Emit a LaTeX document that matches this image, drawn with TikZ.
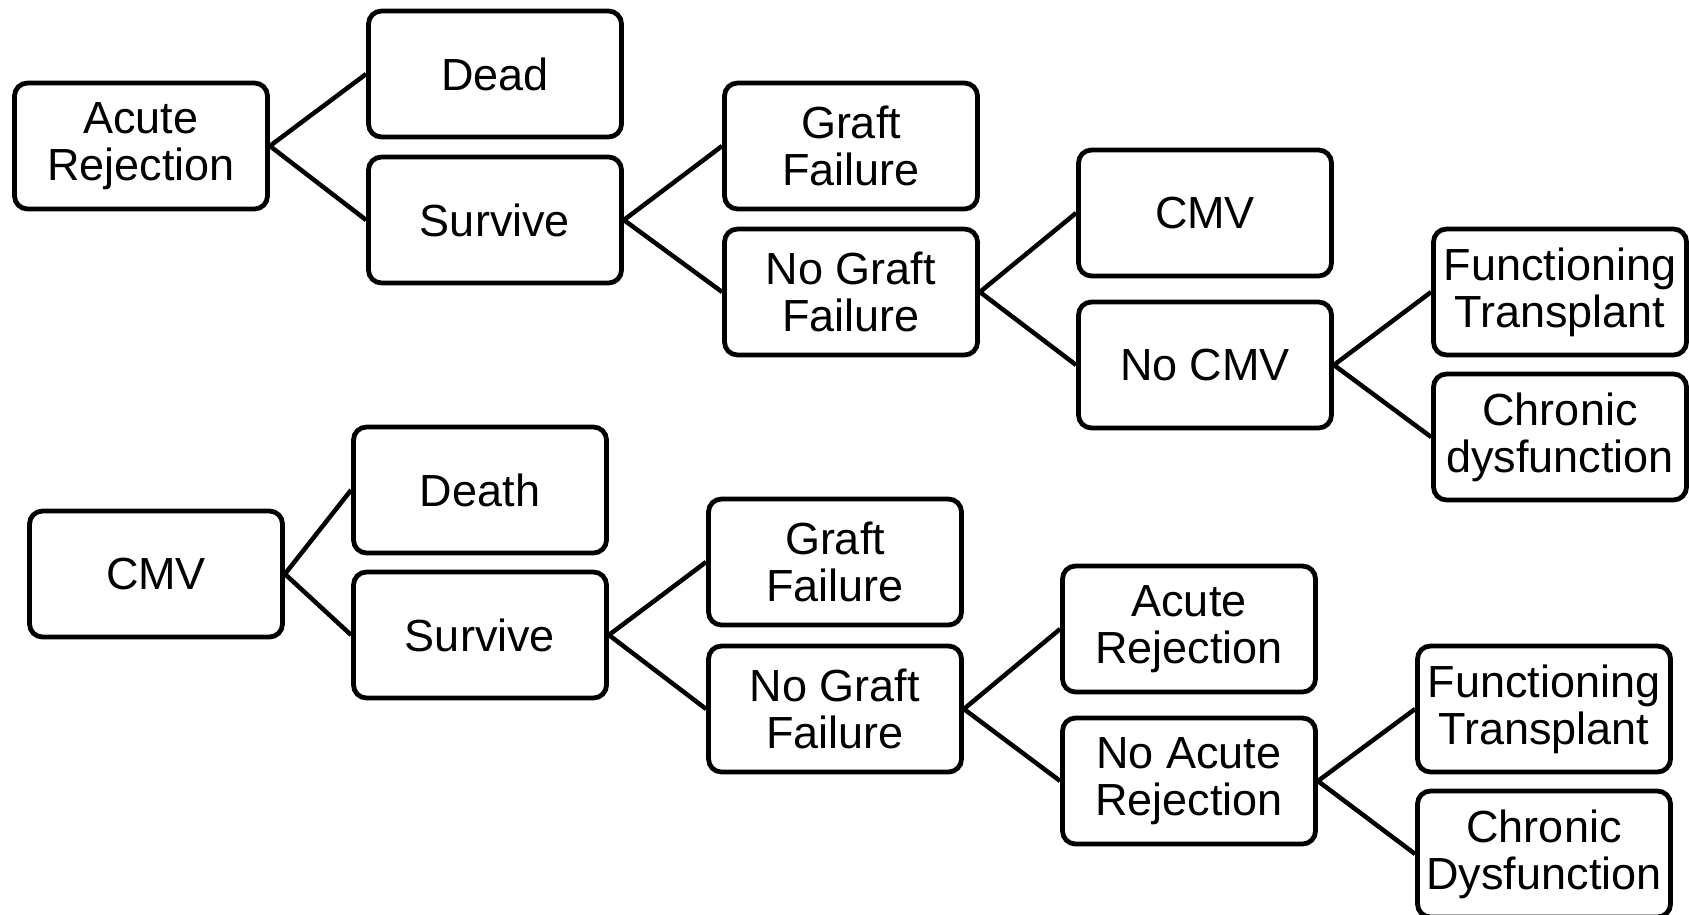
\documentclass[tikz,border=0pt]{standalone}
\usepackage{fontspec}
\setmainfont{Liberation Sans}
\begin{document}
\begin{tikzpicture}[x=1pt,y=-1pt,
 box/.style={draw, line width=4.8pt, rounded corners=13pt, minimum width=253pt, minimum height=126pt, align=center, inner sep=0pt, font=\fontsize{45}{47}\selectfont},
 link/.style={line width=4.5pt}]
\useasboundingbox (0,0) rectangle (1689,915);
% top tree
\node[box] (ar1) at (141,146) {Acute\\Rejection};
\node[box] (dead1) at (495,74) {Dead};
\node[box] (surv1) at (495,220) {Survive};
\node[box] (gf1) at (851,146) {Graft\\Failure};
\node[box] (ngf1) at (851,292) {No Graft\\Failure};
\node[box] (cmv1) at (1205,213) {CMV};
\node[box] (ncmv1) at (1205,365) {No CMV};
\node[box] (ft1) at (1560,292) {Functioning\\Transplant};
\node[box] (cd1) at (1560,437) {Chronic\\dysfunction};
\draw[link] (ar1.east) -- (dead1.west);
\draw[link] (ar1.east) -- (surv1.west);
\draw[link] (surv1.east) -- (gf1.west);
\draw[link] (surv1.east) -- (ngf1.west);
\draw[link] (ngf1.east) -- (cmv1.west);
\draw[link] (ngf1.east) -- (ncmv1.west);
\draw[link] (ncmv1.east) -- (ft1.west);
\draw[link] (ncmv1.east) -- (cd1.west);
% bottom tree
\node[box] (cmv2) at (156,574) {CMV};
\node[box] (death2) at (480,490) {Death};
\node[box] (surv2) at (480,635) {Survive};
\node[box] (gf2) at (835,562) {Graft\\Failure};
\node[box] (ngf2) at (835,709) {No Graft\\Failure};
\node[box] (ar2) at (1189,629) {Acute\\Rejection};
\node[box] (nar2) at (1189,781) {No Acute\\Rejection};
\node[box] (ft2) at (1544,709) {Functioning\\Transplant};
\node[box] (cd2) at (1544,854) {Chronic\\Dysfunction};
\draw[link] (cmv2.east) -- (death2.west);
\draw[link] (cmv2.east) -- (surv2.west);
\draw[link] (surv2.east) -- (gf2.west);
\draw[link] (surv2.east) -- (ngf2.west);
\draw[link] (ngf2.east) -- (ar2.west);
\draw[link] (ngf2.east) -- (nar2.west);
\draw[link] (nar2.east) -- (ft2.west);
\draw[link] (nar2.east) -- (cd2.west);
\end{tikzpicture}
\end{document}
